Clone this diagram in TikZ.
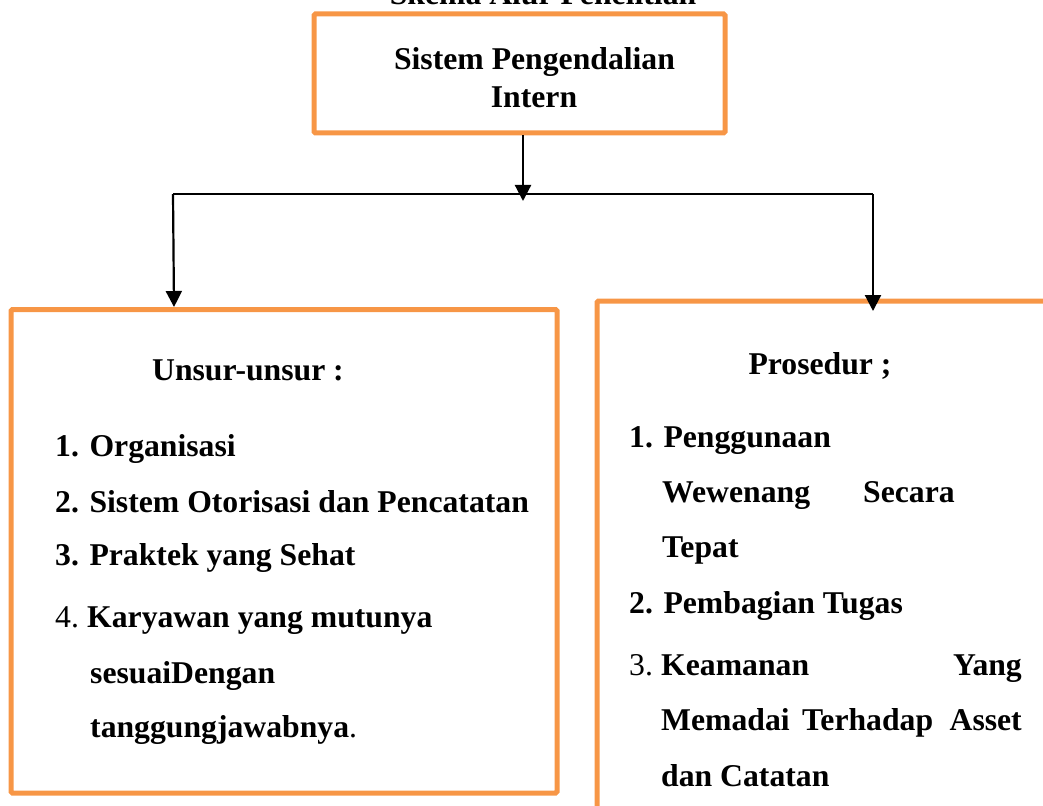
\documentclass[tikz,border=0pt]{standalone}
\usepackage{fontspec}
\setmainfont{Liberation Serif}
\usetikzlibrary{arrows.meta}
\definecolor{boxorange}{RGB}{247,150,70}
\tikzset{
  frame/.style={draw=boxorange, line width=5pt, inner sep=0pt, rounded corners=1.5pt},
  txt/.style={inner sep=0pt, font=\fontsize{31.7}{38}\selectfont\bfseries, anchor=base west},
  ctxt/.style={txt, anchor=base},
  num/.style={txt, font=\fontsize{31.7}{38}\selectfont\mdseries},
  conn/.style={line width=2.2pt, draw=black},
  arr/.style={conn, -{Triangle[width=16pt,length=16pt]}},
}
\begin{document}
\begin{tikzpicture}[x=1pt,y=-1pt]
\useasboundingbox (0,0) rectangle (1043,805);
\clip (0,0) rectangle (1043,805);
% title (cut off at top, as in the reference)
\node[ctxt] (title) at (543,5) {Skema Alur Penelitian};
% boxes
\node[frame, minimum width=411pt, minimum height=119pt] (top) at (519.5,73.5) {};
\node[frame, minimum width=546pt, minimum height=483.5pt] (left) at (284,551.25) {};
\node[frame, minimum width=500pt, minimum height=560pt] (right) at (847,581) {};
% top text
\node[ctxt] (t1) at (534.5,70) {Sistem Pengendalian};
\node[ctxt] (t2) at (534,108) {Intern};
% connectors
\coordinate (tm) at (523,201);
\coordinate (jl) at (173,194);
\coordinate (jr) at (873,194);
\coordinate (tl) at (174,307);
\coordinate (tr) at (873,311);
\draw[arr] (top.south -| tm) -- (tm);
\draw[conn] (jl) -- (jr);
\draw[arr] (jl) -- (tl);
\draw[arr] (jr) -- (tr);
% left box text
\node[ctxt] (lh) at (248,380) {Unsur-unsur :};
\node[txt] (l1) at (55,456) {1. Organisasi};
\node[txt] (l2) at (55,512) {2. Sistem Otorisasi dan Pencatatan};
\node[txt] (l3) at (55,565) {3. Praktek yang Sehat};
\node[num] (l4n) at (55,627) {4.};
\node[txt] (l4) at (87,627) {Karyawan yang mutunya};
\node[txt] (l4b) at (90,683) {sesuaiDengan};
\node[txt] (l4c) at (90,737) {tanggungjawabnya{\mdseries .}};
% right box text
\node[ctxt] (rh) at (820,374) {Prosedur ;};
\node[txt] (r1) at (629,447) {1. Penggunaan};
\node[txt] (r1b) at (662,502) {Wewenang};
\node[txt] (r1c) at (863,502) {Secara};
\node[txt] (r1d) at (662,557) {Tepat};
\node[txt] (r2) at (629,613) {2. Pembagian Tugas};
\node[num] (r3n) at (629,675) {3.};
\node[txt] (r3) at (661,675) {Keamanan};
\node[txt, anchor=base east] (r3b) at (1022,675) {Yang};
\node[txt] (r3c) at (661,730) {Memadai};
\node[txt] (r3d) at (802,730) {Terhadap};
\node[txt, anchor=base east] (r3e) at (1022,730) {Asset};
\node[txt] (r3f) at (661,786) {dan Catatan};
\end{tikzpicture}
\end{document}
